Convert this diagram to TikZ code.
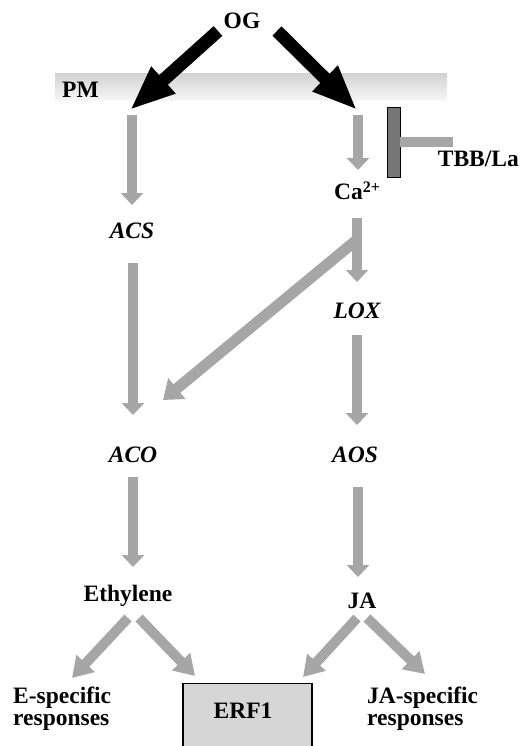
\documentclass[tikz,border=0pt]{standalone}
\usepackage{fontspec}
\setmainfont{Liberation Serif}
\usetikzlibrary{arrows.meta}
\definecolor{arrowgray}{HTML}{A6A6A6}
\definecolor{tbbgray}{HTML}{777777}
\definecolor{erfgray}{HTML}{D6D6D6}
\begin{document}
\begin{tikzpicture}[x=1pt,y=-1pt,
  lbl/.style={font=\fontsize{23.5}{22}\selectfont\bfseries, inner sep=0pt},
  ilbl/.style={inner sep=0pt, font=\fontsize{23.5}{22}\selectfont\bfseries\itshape},
  garrow/.style={draw=arrowgray, line width=10pt, -{Triangle[length=12pt,width=22pt]}},
  darrow/.style={draw=arrowgray, line width=11pt, -{Triangle[length=18pt,width=26pt]}},
  sarrow/.style={draw=arrowgray, line width=10pt, -{Triangle[length=20pt,width=24pt]}},
  barrow/.style={draw=black, line width=13pt, -{Triangle[length=45pt,width=33pt]}}]
\useasboundingbox (0,0) rectangle (522,746);

% plasma membrane band
\shade[top color=gray!34, bottom color=gray!6] (55,74) rectangle (447,101);

% labels
\node[lbl, anchor=base] (OG) at (242,29) {OG};
\node[lbl, anchor=base west] (PM) at (62,98) {PM};
\node[ilbl, anchor=base] (ACS) at (132,238) {ACS};
\node[ilbl, anchor=base] (ACO) at (133,462) {ACO};
\node[lbl, anchor=base] (Eth) at (128,601) {Ethylene};
\node[lbl, anchor=base] (Ca) at (357,200) {Ca\raisebox{8pt}{\fontsize{16}{16}\selectfont 2+}};
\node[ilbl, anchor=base] (LOX) at (357,318) {LOX};
\node[ilbl, anchor=base] (AOS) at (355,462) {AOS};
\node[lbl, anchor=base] (JA) at (362,608) {JA};
\node[lbl, anchor=base east] (TBB) at (519,167) {TBB/La};
\node[lbl, anchor=base west, align=left] (Eresp) at (13,725) {E-specific\\responses};
\node[lbl, anchor=base west, align=left] (JAresp) at (367,725) {JA-specific\\responses};

% ERF1 box
\node[draw=black, fill=erfgray, line width=1.3pt, minimum width=129pt, minimum height=80pt, anchor=north, inner sep=0pt] (ERFbox) at (247.5,683) {};
\node[lbl, anchor=base] (ERF) at (243,718) {ERF1};

% TBB/La inhibition
\coordinate (TBBend) at (453,142);
\node[draw=black, fill=tbbgray, line width=0.8pt, minimum width=13pt, minimum height=70pt, inner sep=0pt] (TBBbar) at (393.5,142) {};
\draw[draw=arrowgray, line width=10pt] (TBBbar.east) -- (TBBend);

% coordinates for connectors
\coordinate (OGl) at (218,31);
\coordinate (OGr) at (277,31);
\coordinate (PMl) at (130,110);
\coordinate (PMr) at (357,110);
\coordinate (Ls1) at (132,115);
\coordinate (Ls1e) at (132,205);
\coordinate (Ls2) at (133,263);
\coordinate (Ls2e) at (133,415);
\coordinate (Ls3) at (133,477);
\coordinate (Ls3e) at (133,567);
\coordinate (Rs1) at (358,115);
\coordinate (Rs1e) at (358,170);
\coordinate (Rs2) at (357,218);
\coordinate (Rs2e) at (357,282);
\coordinate (Rs3) at (357,335);
\coordinate (Rs3e) at (357,425);
\coordinate (Rs4) at (358,487);
\coordinate (Rs4e) at (358,577);
\coordinate (Dg) at (359,238);
\coordinate (Dge) at (163,400);
\coordinate (Ebl) at (128,618);
\coordinate (Eblt) at (72,678);
\coordinate (Ebr) at (139,618);
\coordinate (Ebrt) at (195,676);
\coordinate (Jbl) at (357,618);
\coordinate (Jblt) at (303,677);
\coordinate (Jbr) at (367,618);
\coordinate (Jbrt) at (425,674);

% black arrows
\draw[barrow] (OGl) -- (PMl);
\draw[barrow] (OGr) -- (PMr);

% grey arrows
\draw[garrow] (Ls1) -- (Ls1e);
\draw[garrow] (Ls2) -- (Ls2e);
\draw[garrow] (Ls3) -- (Ls3e);
\draw[garrow] (Rs1) -- (Rs1e);
\draw[garrow] (Rs2) -- (Rs2e);
\draw[garrow] (Rs3) -- (Rs3e);
\draw[garrow] (Rs4) -- (Rs4e);
\draw[darrow] (Dg) -- (Dge);
\draw[sarrow] (Ebl) -- (Eblt);
\draw[sarrow] (Ebr) -- (Ebrt);
\draw[sarrow] (Jbl) -- (Jblt);
\draw[sarrow] (Jbr) -- (Jbrt);
\end{tikzpicture}
\end{document}
